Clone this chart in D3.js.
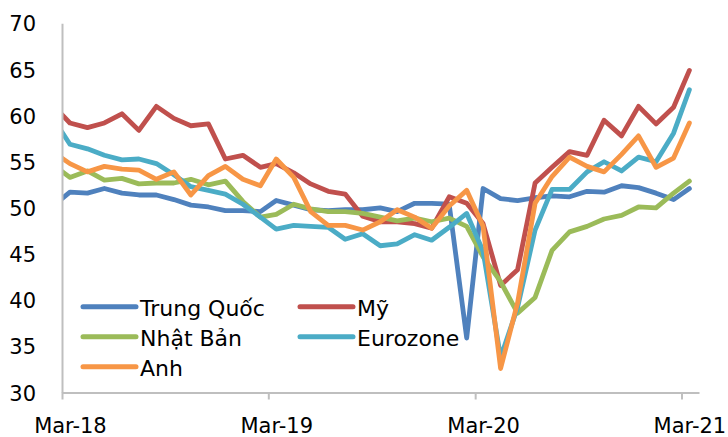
<!DOCTYPE html>
<html>
<head>
<meta charset="utf-8">
<script src="https://cdn.jsdelivr.net/npm/d3@7"></script>
<style>
  body { margin: 0; background: #fff; }
  svg text { font-family: "DejaVu Sans", Verdana, sans-serif; fill: #000; }
</style>
</head>
<body>
<svg id="chart"></svg>
<script>
// months (Feb-18 is only there so the line enters at the axis edge, it gets clipped)
const months = [
  '2018-02', '2018-03', '2018-04', '2018-05', '2018-06', '2018-07', '2018-08', '2018-09', '2018-10', '2018-11', '2018-12',
  '2019-01', '2019-02', '2019-03', '2019-04', '2019-05', '2019-06', '2019-07', '2019-08', '2019-09', '2019-10', '2019-11', '2019-12',
  '2020-01', '2020-02', '2020-03', '2020-04', '2020-05', '2020-06', '2020-07', '2020-08', '2020-09', '2020-10', '2020-11', '2020-12',
  '2021-01', '2021-02', '2021-03'
];

const trungQuoc = [
  50.3, 51.7, 51.6, 52.1, 51.6, 51.4, 51.4, 50.9, 50.3, 50.1, 49.7,
  49.7, 49.6, 50.8, 50.3, 49.8, 49.7, 49.8, 49.8, 50.0, 49.6, 50.5, 50.5,
  50.4, 35.9, 52.1, 51.0, 50.8, 51.1, 51.3, 51.2, 51.8, 51.7, 52.4, 52.2,
  51.6, 50.9, 52.1
];
const my = [
  61.0, 59.2, 58.7, 59.2, 60.2, 58.4, 61.0, 59.7, 58.9, 59.1, 55.3,
  55.7, 54.4, 54.8, 53.8, 52.6, 51.8, 51.5, 49.1, 48.5, 48.5, 48.3, 47.8,
  51.2, 50.5, 48.3, 41.6, 43.3, 52.7, 54.4, 56.1, 55.7, 59.5, 57.8, 61.0,
  59.1, 60.9, 64.9
];
const nhatBan = [
  54.6, 53.3, 54.0, 53.0, 53.2, 52.6, 52.7, 52.7, 53.1, 52.5, 52.9,
  50.7, 49.0, 49.3, 50.4, 49.9, 49.6, 49.6, 49.4, 49.0, 48.6, 48.9, 48.5,
  48.9, 48.0, 44.7, 42.0, 38.6, 40.3, 45.4, 47.4, 48.0, 48.8, 49.2, 50.1,
  50.0, 51.6, 52.9
];
const eurozone = [
  59.5, 56.9, 56.4, 55.7, 55.2, 55.3, 54.8, 53.6, 52.3, 51.9, 51.5,
  50.4, 49.0, 47.7, 48.1, 48.0, 47.9, 46.6, 47.2, 45.9, 46.1, 47.1, 46.5,
  47.9, 49.4, 45.3, 33.8, 39.2, 47.6, 52.0, 52.0, 53.9, 55.0, 54.0, 55.5,
  55.0, 58.1, 62.8
];
const anh = [
  56.0, 54.8, 53.9, 54.5, 54.2, 54.1, 53.1, 53.9, 51.4, 53.5, 54.5,
  53.1, 52.4, 55.3, 53.3, 49.6, 48.1, 48.1, 47.6, 48.5, 49.8, 49.0, 47.8,
  50.2, 51.9, 48.0, 32.6, 39.7, 50.5, 53.4, 55.5, 54.5, 53.9, 55.8, 57.8,
  54.4, 55.4, 59.2
];

const seriesNames = ['Trung Quốc', 'Mỹ', 'Nhật Bản', 'Eurozone', 'Anh'];
const seriesColors = ['#4F81BD', '#C0504D', '#9BBB59', '#4BACC6', '#F79646'];
const yTicks = [30, 35, 40, 45, 50, 55, 60, 65, 70];
const xTickMonths = ['2018-03', '2019-03', '2020-03', '2021-03'];
const xTickLabels = ['Mar-18', 'Mar-19', 'Mar-20', 'Mar-21'];

const width = 728;
const height = 437;
const plotLeft = 62;
const plotRight = 699;
const plotTop = 23.3;
const plotBottom = 392.5;

const parseMonth = d3.timeParse('%Y-%m');
const midMonth = (m) => d3.timeDay.offset(parseMonth(m), 14);

const allSeries = [trungQuoc, my, nhatBan, eurozone, anh].map((values, i) => ({
  name: seriesNames[i],
  color: seriesColors[i],
  points: values.map((v, j) => ({date: midMonth(months[j]), value: v}))
}));

const svg = d3.select('#chart')
  .attr('width', width)
  .attr('height', height);

const x = d3.scaleTime()
  .domain([parseMonth('2018-03'), parseMonth('2021-04')])
  .range([plotLeft, plotRight]);

const y = d3.scaleLinear()
  .domain([30, 70])
  .range([plotBottom, plotTop]);

// clip so the Feb-18 segment stops at the y axis
svg.append('clipPath')
  .attr('id', 'plot-clip')
  .append('rect')
  .attr('x', plotLeft)
  .attr('y', 0)
  .attr('width', plotRight - plotLeft + 10)
  .attr('height', height);

const line = d3.line()
  .x(d => x(d.date))
  .y(d => y(d.value));

svg.append('g')
  .attr('clip-path', 'url(#plot-clip)')
  .selectAll('path')
  .data(allSeries)
  .enter()
  .append('path')
  .attr('d', d => line(d.points))
  .attr('fill', 'none')
  .attr('stroke', d => d.color)
  .attr('stroke-width', 4.8)
  .attr('stroke-linejoin', 'round')
  .attr('stroke-linecap', 'round');

// y axis
const yAxis = d3.axisLeft(y)
  .tickValues(yTicks)
  .tickSize(0)
  .tickPadding(26);

const yG = svg.append('g')
  .attr('transform', 'translate(' + plotLeft + ',0)')
  .call(yAxis);
yG.select('.domain').attr('stroke', '#BFBFBF').attr('stroke-width', 2);
yG.selectAll('text')
  .style('font-size', '21px')
  .attr('dy', '0.36em');

// x axis, labels sit at the middle of March
const labelShift = x(midMonth('2018-03')) - x(parseMonth('2018-03'));
const xAxis = d3.axisBottom(x)
  .tickValues(xTickMonths.map(parseMonth))
  .tickFormat((d, i) => xTickLabels[i])
  .tickSize(7)
  .tickSizeOuter(0);

const xG = svg.append('g')
  .attr('transform', 'translate(0,' + plotBottom + ')')
  .call(xAxis);
xG.select('.domain').attr('stroke', '#BFBFBF').attr('stroke-width', 2);
xG.selectAll('.tick line').attr('stroke', '#BFBFBF').attr('stroke-width', 2);
xG.selectAll('text')
  .style('font-size', '21px')
  .attr('y', 40)
  .attr('dy', 0)
  .attr('dx', labelShift);

// legend
const legendCols = [83, 300];
const legendRows = [306.7, 336.7, 366.7];
const legend = svg.append('g')
  .selectAll('g')
  .data(allSeries)
  .enter()
  .append('g')
  .attr('transform', (d, i) =>
    'translate(' + legendCols[i % 2] + ',' + legendRows[Math.floor(i / 2)] + ')');

legend.append('line')
  .attr('x1', 0)
  .attr('x2', 53)
  .attr('stroke', d => d.color)
  .attr('stroke-width', 5)
  .attr('stroke-linecap', 'round');

legend.append('text')
  .attr('x', 57)
  .attr('dy', '0.4em')
  .style('font-size', '22px')
  .text(d => d.name);
</script>
</body>
</html>
